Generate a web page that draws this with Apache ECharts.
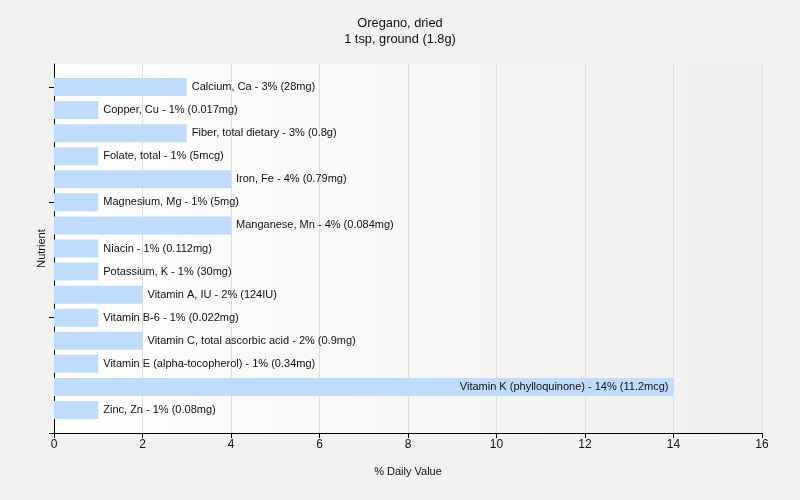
<!DOCTYPE html>
<html>
<head>
<meta charset="utf-8">
<script src="https://cdn.jsdelivr.net/npm/echarts@6/dist/echarts.min.js"></script>
<style>html,body{margin:0;padding:0;background:#f2f2f1;}#c{width:800px;height:500px;}</style>
</head>
<body>
<div id="c"></div>
<script>
const nutrients = ["Calcium, Ca","Copper, Cu","Fiber, total dietary","Folate, total","Iron, Fe","Magnesium, Mg","Manganese, Mn","Niacin","Potassium, K","Vitamin A, IU","Vitamin B-6","Vitamin C, total ascorbic acid","Vitamin E (alpha-tocopherol)","Vitamin K (phylloquinone)","Zinc, Zn"];
const dailyValues = [3,1,3,1,4,1,4,1,1,2,1,2,1,14,1];
const amounts = ["28mg","0.017mg","0.8g","5mcg","0.79mg","5mg","0.084mg","0.112mg","30mg","124IU","0.022mg","0.9mg","0.34mg","11.2mcg","0.08mg"];
const xTicks = [0,2,4,6,8,10,12,14,16];
const yTicks = [0,5,10,15];

const FONT = "Liberation Sans";
const chart = echarts.init(document.getElementById('c'));
const data = dailyValues.map((v,i)=>{
  const d = {value: v, name: nutrients[i] + " - " + v + "% (" + amounts[i] + ")"};
  if (v >= 10) d.label = {position: 'insideRight', distance: 5};
  return d;
});
chart.setOption({
  backgroundColor: '#f2f2f1',
  animation: false,
  title: {
    text: "Oregano, dried",
    subtext: "1 tsp, ground (1.8g)",
    left: 'center', top: 12, itemGap: 3,
    textStyle: {fontFamily: FONT, fontSize: 12.8, fontWeight: 'normal', color: '#111'},
    subtextStyle: {fontFamily: FONT, fontSize: 12.8, color: '#111'}
  },
  grid: [
    {left: 54, right: 38, top: 64, bottom: 67, show: true, borderWidth: 0,
     backgroundColor: {type: 'linear', x: 0, y: 0, x2: 1, y2: 0,
       colorStops: [{offset: 0, color: '#ffffff'}, {offset: 1, color: '#efefee'}]}},
    {left: 54, right: 38, top: 75.5, bottom: 78.5}
  ],
  xAxis: [
    {type: 'value', gridIndex: 0, min: xTicks[0], max: xTicks[xTicks.length-1], interval: 2,
     name: "% Daily Value", nameLocation: 'middle', nameGap: 33,
     nameTextStyle: {fontFamily: FONT, fontSize: 11, color: '#111'},
     axisLine: {show: true, lineStyle: {color: '#000', width: 1}},
     axisTick: {show: true, length: 5, lineStyle: {color: '#000'}},
     axisLabel: {fontFamily: FONT, fontSize: 12, color: '#111', margin: 6},
     splitLine: {show: true, lineStyle: {color: '#dedede', width: 1}}},
    {type: 'value', gridIndex: 1, min: 0, max: 16, show: false}
  ],
  yAxis: [
    {type: 'value', gridIndex: 0, min: 0, max: 16, interval: 5,
     name: "Nutrient", nameLocation: 'middle', nameGap: 7,
     nameTextStyle: {fontFamily: FONT, fontSize: 11, color: '#111'},
     axisLine: {show: true, lineStyle: {color: '#000', width: 1}},
     axisTick: {show: true, length: 5, customValues: yTicks, lineStyle: {color: '#000'}},
     axisLabel: {show: false},
     splitLine: {show: false}},
    {type: 'category', gridIndex: 1, data: nutrients, inverse: true, show: false}
  ],
  series: [{
    type: 'bar', xAxisIndex: 1, yAxisIndex: 1,
    barWidth: 18,
    itemStyle: {color: '#bfdbfe'},
    label: {show: true, position: 'right', distance: 5, formatter: '{b}',
      fontFamily: FONT, fontSize: 11, color: '#111'},
    data: data
  }]
});
</script>
</body>
</html>
